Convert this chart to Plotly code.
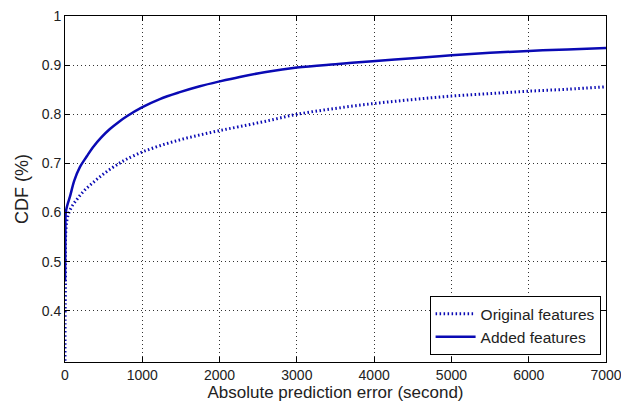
import plotly.graph_objects as go

# Data
added_x = [0, 5, 10, 30, 65, 120, 194, 280, 362, 470, 581, 700, 800, 995, 1227, 1486,
           1744, 2003, 2261, 2600, 3000, 3500, 3980, 4500, 5000, 5500, 6000, 6500, 7000]
added_y = [0.46, 0.56, 0.60, 0.615, 0.633, 0.665, 0.693, 0.714, 0.733, 0.753, 0.770, 0.785,
           0.796, 0.814, 0.831, 0.845, 0.857, 0.867, 0.876, 0.886, 0.895, 0.902, 0.908,
           0.914, 0.920, 0.925, 0.929, 0.932, 0.935]

orig_x = [0, 5, 25, 80, 155, 250, 362, 470, 581, 700, 800, 995, 1227, 1486, 1744, 2003,
          2261, 2600, 3000, 3500, 4000, 4500, 5000, 5500, 6000, 6500, 7000]
orig_y = [0.29, 0.45, 0.585, 0.61, 0.627, 0.645, 0.661, 0.675, 0.688, 0.700, 0.709, 0.723,
          0.736, 0.748, 0.758, 0.767, 0.775, 0.786, 0.800, 0.812, 0.822, 0.830, 0.837,
          0.842, 0.847, 0.851, 0.856]

x_ticks = [0, 1000, 2000, 3000, 4000, 5000, 6000, 7000]
y_ticks = [0.4, 0.5, 0.6, 0.7, 0.8, 0.9, 1.0]
y_tick_text = ["0.4", "0.5", "0.6", "0.7", "0.8", "0.9", "1"]

line_color = "#0a0ab4"
font = "Liberation Sans, Arial, sans-serif"

fig = go.Figure()
fig.add_trace(go.Scatter(x=orig_x, y=orig_y, mode="lines", name="Original features",
                         line=dict(color=line_color, width=3, dash="1.5px,2.5px", shape="spline")))
fig.add_trace(go.Scatter(x=added_x, y=added_y, mode="lines", name="Added features",
                         line=dict(color=line_color, width=2.5, shape="spline")))

axis_common = dict(showline=True, linecolor="black", linewidth=1, mirror="ticks",
                   ticks="inside", ticklen=5, tickcolor="black",
                   showgrid=True, gridcolor="#333", griddash="1px,3px", gridwidth=1,
                   zeroline=False, automargin=False,
                   tickfont=dict(family=font, size=14, color="#222"))

fig.update_layout(
    width=621, height=415,
    margin=dict(l=65, r=15, t=16, b=53),
    paper_bgcolor="white", plot_bgcolor="white",
    font=dict(family=font, size=14, color="#222"),
    xaxis=dict(range=[0, 7000], tickvals=x_ticks, ticklabeloverflow="allow",
               title=dict(text="Absolute prediction error (second)", standoff=3,
                          font=dict(family=font, size=17)),
               **axis_common),
    yaxis=dict(range=[0.296, 1.0], tickvals=y_ticks, ticktext=y_tick_text,
               title=dict(text="CDF (%)", standoff=8, font=dict(family=font, size=18)),
               **axis_common),
    legend=dict(x=0.99, y=0.02, xanchor="right", yanchor="bottom",
                bgcolor="white", bordercolor="black", borderwidth=1,
                font=dict(family=font, size=15.5, color="#222"),
                tracegroupgap=0, itemwidth=40),
    showlegend=True,
)

fig.write_html("out.html", config={"displayModeBar": False},
               post_script="document.body.style.margin='0px';")
